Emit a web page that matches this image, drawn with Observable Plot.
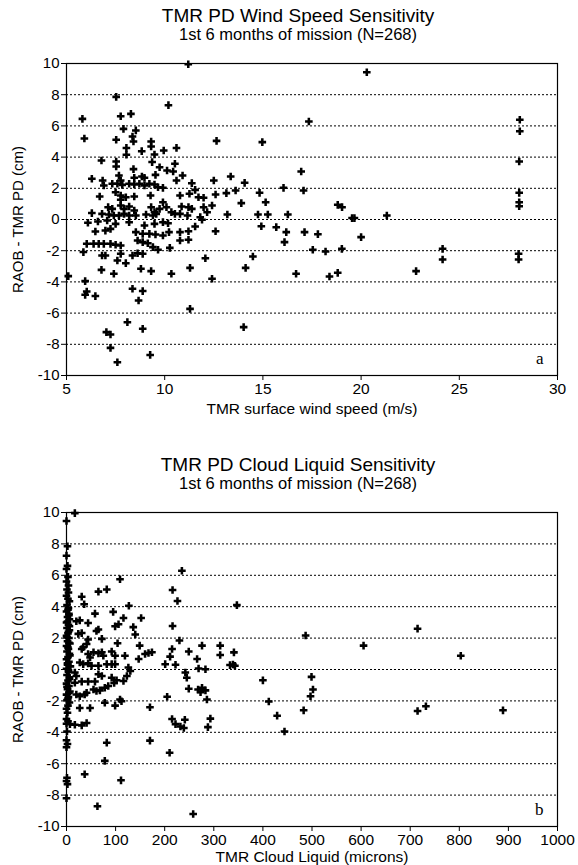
<!DOCTYPE html>
<html>
<head>
<meta charset="utf-8">
<script src="https://cdn.jsdelivr.net/npm/d3@7"></script>
<script src="https://cdn.jsdelivr.net/npm/@observablehq/plot@0.6"></script>
<style>
  html, body { margin: 0; padding: 0; background: #fff; }
  #root { position: relative; width: 578px; height: 865px; overflow: hidden; font-family: "Liberation Sans", Arial, sans-serif; color: #000; }
  .title { position: absolute; left: 0; width: 596px; text-align: center; white-space: nowrap; line-height: 1; }
  .t1 { font-size: 19px; }
  .t2 { font-size: 16.5px; }
  .chart { position: absolute; left: 0; }
</style>
</head>
<body>
<div id="root"></div>
<script>
// ---------- Data: panel a (wind speed) ----------
const windSpeed = [
  11.2, 7.53, 10.19, 5.81, 7.76, 8.28, 7.9, 8.53, 5.91, 7.53, 8.36, 8.41, 9.31, 9.31, 12.64,
  8.05, 8.05, 8.83, 9.48, 9.95, 10.6, 6.78, 7.53, 7.53, 8.41, 9.36, 9.74, 10.52, 10.12, 10.43,
  9.53, 8.97, 6.29, 6.84, 10.91, 13.36, 7.67, 7.76, 8.45, 8.84, 7.33, 7.59, 7.84, 8.19, 8.45,
  8.71, 8.97, 9.22, 9.48, 6.9, 9.66, 9.91, 10.6, 11.38, 12.5, 6.69, 7.5, 7.76, 7.76, 8.02,
  8.45, 9.28, 10.78, 11.26, 11.55, 11.72, 11.98, 12.59, 13.14, 7.12, 7.33, 7.76, 7.93, 8.19, 8.45,
  9.31, 9.48, 9.74, 9.91, 10.09, 10.34, 10.86, 11.21, 11.38, 11.98, 12.41, 12.16, 6.29, 6.81, 7.16,
  7.41, 7.67, 7.93, 8.19, 8.53, 9.05, 9.4, 9.57, 10.52, 10.78, 11.16, 11.81, 11.9, 13.19, 6.09,
  6.6, 7.07, 7.5, 8.19, 8.97, 9.48, 9.91, 10.17, 11.55, 6.47, 6.98, 7.24, 8.53, 8.88, 9.22,
  9.53, 9.91, 10.22, 10.78, 11.21, 12.59, 6.03, 6.38, 6.64, 6.9, 7.24, 7.5, 7.76, 8.62, 8.88,
  9.14, 9.4, 9.66, 10.26, 10.78, 11.21, 5.86, 6.81, 6.98, 7.76, 7.59, 8.02, 8.36, 8.62, 8.88,
  12.07, 6.78, 7.41, 8.79, 9.31, 10.34, 11.29, 12.41, 5.09, 5.95, 6.03, 5.95, 6.47, 8.36, 8.88,
  8.67, 11.29, 8.1, 8.88, 7.03, 7.24, 7.24, 9.26, 7.59,
  20.29, 17.34, 14.97, 28.08, 28.08, 28.05, 28.05, 28.05, 28.05, 28.02, 28.02, 14.07, 13.61, 14.83, 13.9,
  15.14, 14.75, 15.25, 16.27, 16.05, 16.95, 17.07, 18.81, 19.03, 19.54, 19.66, 21.31, 14.92, 15.68, 16.19,
  16.1, 17.12, 17.8, 20.0, 14.49, 14.12, 17.54, 18.19, 19.02, 16.69, 18.39, 18.81, 22.8, 24.15, 24.15,
  14.02
];
const windDiff = [
  9.95, 7.86, 7.33, 6.45, 6.62, 6.77, 5.81, 5.71, 5.19, 5.11, 5.32, 5.0, 5.0, 4.68, 5.04,
  4.59, 4.15, 4.38, 4.17, 4.42, 4.59, 3.78, 3.72, 3.4, 3.23, 3.68, 3.35, 3.57, 3.14, 3.08,
  2.86, 2.67, 2.61, 2.5, 2.82, 2.76, 2.82, 2.5, 2.67, 2.76, 2.29, 2.29, 2.22, 2.29, 2.24,
  2.29, 2.18, 2.29, 2.24, 2.18, 2.07, 2.03, 2.5, 2.33, 2.5, 1.47, 1.75, 1.54, 1.26, 1.43,
  1.47, 1.54, 1.54, 1.65, 1.9, 1.43, 1.39, 1.6, 1.69, 0.79, 0.68, 0.9, 0.68, 0.83, 0.58,
  0.79, 0.47, 0.68, 1.11, 0.79, 0.47, 0.83, 0.79, 0.68, 0.79, 0.9, 0.47, 0.41, 0.36, 0.32,
  0.26, 0.26, 0.36, 0.26, 0.26, 0.32, 0.26, 0.36, 0.36, 0.36, 0.26, 0.15, -0.02, 0.32, -0.21,
  -0.13, -0.06, -0.28, -0.17, -0.38, -0.28, -0.17, -0.24, -0.45, -0.77, -0.71, -0.6, -0.81, -0.92, -0.92,
  -0.96, -1.03, -0.81, -0.81, -0.75, -0.75, -1.56, -1.56, -1.56, -1.56, -1.56, -1.62, -1.67, -1.35, -1.45,
  -1.52, -1.77, -1.94, -1.82, -1.35, -1.3, -2.09, -2.31, -2.31, -2.2, -2.63, -2.8, -2.31, -2.16, -2.2,
  -2.48, -3.23, -3.48, -3.16, -3.31, -3.48, -3.1, -3.8, -3.63, -3.95, -4.62, -4.83, -4.91, -4.44, -4.59,
  -5.19, -5.73, -6.58, -7.01, -7.22, -7.37, -8.23, -8.68, -9.15,
  9.44, 6.28, 4.96, 6.39, 5.66, 3.72, 1.71, 1.11, 0.85, -2.2, -2.56, 2.35, 1.86, 1.71, 1.05,
  1.11, 0.32, 0.32, 0.32, 2.03, 3.08, 1.86, 0.94, 0.79, 0.09, 0.09, 0.26, -0.43, -0.49, -0.81,
  -1.45, -0.81, -0.94, -1.13, -2.37, -3.1, -1.94, -2.05, -1.88, -3.48, -3.65, -3.42, -3.31, -1.88, -2.56,
  -6.9
];

// ---------- Data: panel b (cloud liquid) ----------
const cloudLiquid = [
  0, 2, 0, 2, 0, 3, 0, 4, 1, 4, 0, 3, 6, 1, 4, 0, 5, 2, 6, 0, 4, 1, 6, 3, 0, 5, 2, 7, 0, 4,
  1, 6, 3, 0, 5, 2, 8, 0, 4, 1, 6, 3, 0, 5, 2, 7, 0, 4, 1, 6, 3, 0, 2, 0, 3, 0, 1, 0, 2, 0,
  1, 0, 2, 0,
  3, 5, 2, 6, 4, 1, 5, 3, 7, 2, 4, 6, 1, 5, 3,
  17, 109, 65, 82, 31, 36, 127, 58, 95, 152, 20, 27, 44, 116, 99, 106, 136, 140, 61, 65,
  24, 31, 72, 44, 41, 104, 149, 31, 34, 55, 65, 72, 75, 44, 48, 92, 99, 119, 160, 167,
  174, 147, 27, 34, 44, 51, 65, 82, 92, 99, 126, 130, 17, 20, 65, 72, 92, 102, 123, 116,
  17, 31, 44, 58, 78, 85, 97, 55, 61, 68, 20, 27, 37, 41, 109, 112, 78, 99, 27, 48,
  170, 7, 17, 31, 41, 82, 170, 78, 37, 111, 63,
  235, 216, 226, 216, 230, 215, 249, 276, 313, 313, 211, 266, 201, 222, 269, 283, 242, 245, 249, 268,
  276, 283, 273, 205, 286, 215, 222, 232, 239, 241, 293, 288, 210, 258,
  347, 341, 333, 339, 343, 487, 605, 715, 803, 400, 499, 502, 497, 412, 429, 444, 483, 715, 732, 889
];
const cloudDiff = [
  9.46, 7.85, 7.25, 6.6, 6.4, 5.9, 5.6, 5.35, 5.1, 4.9, 4.7, 4.5, 4.35, 4.1, 3.9, 3.7, 3.55, 3.35, 3.2, 3.0,
  2.85, 2.65, 2.5, 2.3, 2.15, 2.0, 1.8, 1.65, 1.5, 1.3, 1.15, 1.0, 0.8, 0.65, 0.5, 0.3, 0.2, 0.05, -0.15, -0.35,
  -0.5, -0.7, -0.9, -1.05, -1.25, -1.4, -1.6, -1.75, -1.95, -2.1, -2.3, -2.5, -2.75, -3.15, -3.3, -3.45, -3.95, -4.5, -4.75, -4.95,
  -6.9, -7.1, -7.3, -8.2,
  3.8, 3.45, 3.05, 2.75, 2.4, 2.05, 1.7, 1.4, 0.9, 0.4, -0.05, -0.6, -1.1, -1.5, -1.85,
  9.96, 5.75, 4.96, 5.1, 4.64, 4.16, 4.06, 3.56, 3.67, 3.28, 3.07, 3.13, 2.96, 3.28, 2.75, 2.88, 2.7, 2.23, 2.45, 2.55,
  2.27, 2.32, 1.95, 1.91, 1.63, 1.67, 1.52, 1.31, 1.42, 1.1, 1.03, 1.1, 0.88, 0.99, 0.77, 1.14, 0.88, 0.88, 0.99, 1.05,
  1.1, 0.67, 0.45, 0.34, 0.39, 0.24, 0.24, 0.34, 0.34, 0.34, 0.13, -0.09, -0.19, -0.41, -0.3, -0.41, -0.52, -0.69, -0.41, -0.73,
  -0.84, -0.77, -0.77, -0.77, -1.16, -1.05, -0.86, -1.27, -1.37, -1.33, -1.59, -1.7, -1.59, -1.48, -1.91, -2.02, -2.12, -2.3, -2.45, -2.45,
  -2.4, -3.48, -3.52, -3.56, -3.41, -4.66, -4.53, -5.82, -6.67, -7.06, -8.71,
  6.29, 5.06, 4.36, 2.77, 1.85, 1.31, 1.14, 1.52, 1.52, 0.92, 0.82, 0.67, 0.34, 0.3, 0.06, 0.02, -0.19, -0.52, -1.22, -1.27,
  -1.16, -1.33, -1.44, -1.74, -1.91, -3.15, -3.48, -3.63, -3.73, -3.2, -3.13, -3.67, -5.3, -9.2,
  4.1, 1.09, 0.28, 0.32, 0.24, 2.17, 1.52, 2.6, 0.88, -0.69, -0.47, -1.27, -1.7, -2.04, -2.94, -3.95, -2.6, -2.64, -2.34, -2.6
];

// ---------- Ticks & labels ----------
const yTicks = [-10, -8, -6, -4, -2, 0, 2, 4, 6, 8, 10];
const gridLines = [-8, -6, -4, -2, 0, 2, 4, 6, 8];
const windTicks = [5, 10, 15, 20, 25, 30];
const cloudTicks = [0, 100, 200, 300, 400, 500, 600, 700, 800, 900, 1000];
const yLabel = "RAOB - TMR PD (cm)";
const panels = [
  { title: "TMR PD Wind Speed Sensitivity", subtitle: "1st 6 months of mission (N=268)",
    xs: windSpeed, ys: windDiff, domain: [5, 30], ticks: windTicks,
    xLabel: "TMR surface wind speed (m/s)", letter: "a",
    titleTop: 6, subTop: 25.5, svgTop: 48, height: 375, marginBottom: 48, labelOffset: 38 },
  { title: "TMR PD Cloud Liquid Sensitivity", subtitle: "1st 6 months of mission (N=268)",
    xs: cloudLiquid, ys: cloudDiff, domain: [0, 1000], ticks: cloudTicks,
    xLabel: "TMR Cloud Liquid (microns)", letter: "b",
    titleTop: 455, subTop: 474.5, svgTop: 497, height: 369, marginBottom: 40, labelOffset: 35 }
];

const FONT = '"Liberation Sans", Arial, sans-serif';
const root = document.getElementById("root");

for (const p of panels) {
  const t = document.createElement("div");
  t.className = "title t1"; t.style.top = p.titleTop + "px"; t.textContent = p.title;
  root.appendChild(t);
  const s = document.createElement("div");
  s.className = "title t2"; s.style.top = p.subTop + "px"; s.textContent = p.subtitle;
  root.appendChild(s);

  const data = p.xs.map((x, i) => ({ x, y: p.ys[i] }));
  const chart = Plot.plot({
    width: 578,
    height: p.height,
    marginTop: 15,
    marginLeft: 66,
    marginRight: 21,
    marginBottom: p.marginBottom,
    style: { fontFamily: FONT, fontSize: "15px", color: "#000", background: "#fff", overflow: "visible" },
    x: { domain: p.domain },
    y: { domain: [-10, 10] },
    marks: [
      Plot.ruleY(gridLines, { stroke: "#000", strokeWidth: 1, strokeDasharray: "2,2" }),
      Plot.frame({ stroke: "#000", strokeWidth: 1.2 }),
      Plot.axisX({ ticks: p.ticks, tickSize: 5, tickPadding: 2, tickFormat: d => `${d}`,
        label: p.xLabel, labelAnchor: "center", labelArrow: "none", labelOffset: p.labelOffset, fontSize: 15.5 }),
      Plot.axisY({ ticks: yTicks, tickSize: 5, tickPadding: 2, tickFormat: d => `${d}`,
        label: yLabel, labelAnchor: "center", labelArrow: "none", labelOffset: 54, fontSize: 15 }),
      Plot.dot(data, { x: "x", y: "y", symbol: "cross", r: 3.2, fill: "#000", stroke: "none" }),
      Plot.text([p.letter], { frameAnchor: "bottom-right", dx: -14, dy: -12, fontSize: 17,
        fontFamily: '"Liberation Serif", "Times New Roman", serif', fill: "#000" })
    ]
  });
  chart.classList.add("chart");
  chart.style.top = p.svgTop + "px";
  root.appendChild(chart);
}
</script>
</body>
</html>
